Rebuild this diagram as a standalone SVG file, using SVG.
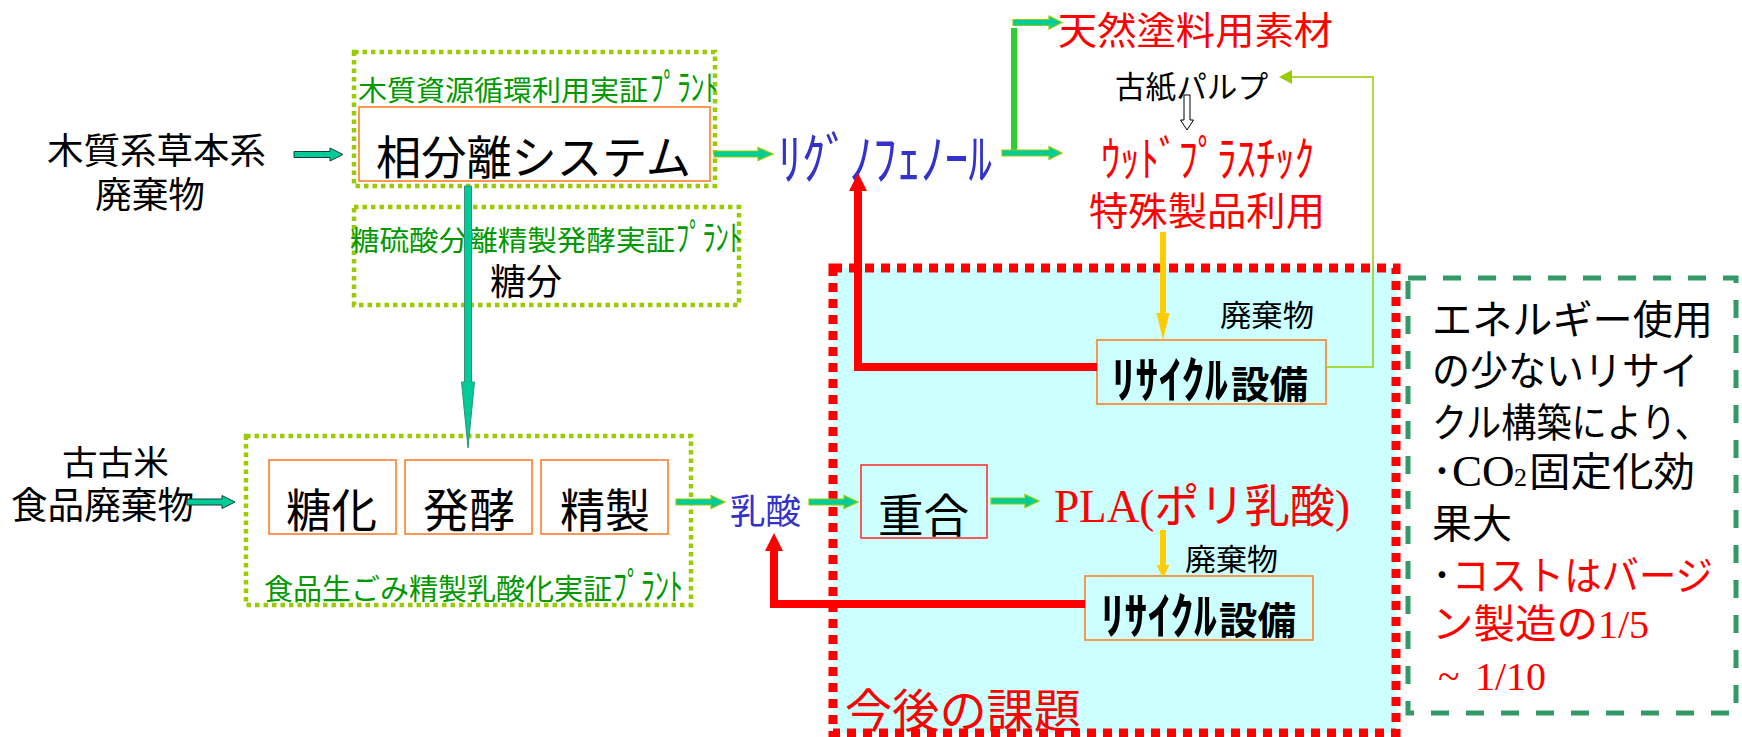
<svg xmlns="http://www.w3.org/2000/svg" width="1742" height="737" viewBox="0 0 1742 737">
<defs>
<style>
text{font-family:"Noto Sans CJK JP","Noto Sans CJK SC",sans-serif;}
.ser{font-family:"Liberation Serif","Noto Sans CJK JP",serif;}
.gdot{fill:none;stroke:#99CC00;stroke-width:4.5;stroke-dasharray:4.5 4;}
.obox{fill:none;stroke:#FF7F2A;stroke-width:1.6;}
.teal{fill:#00CC99;stroke:#99CC00;stroke-width:1.2;}
.tealk{fill:#00CC99;stroke:#1a3d33;stroke-width:1;}
.red{fill:none;stroke:#FF0000;stroke-width:8;}
.yel{fill:#FFCC00;}
.g{fill:#009900;}
.b{fill:#3333CC;}
.r{fill:#FF0000;}
.k{fill:#000000;}
</style>
</defs>
<rect x="0" y="0" width="1742" height="737" fill="#FFFFFF"/>

<g id="region-future">
<rect x="833" y="268" width="563" height="465" fill="#CCFFFF" stroke="#FF0000" stroke-width="9" stroke-dasharray="9 7"/>
<text x="845" y="727" font-size="46" class="r" textLength="236" lengthAdjust="spacingAndGlyphs">今後の課題</text>
</g>

<g id="note-box">
<rect x="1408" y="278" width="328" height="435" fill="none" stroke="#339966" stroke-width="5" stroke-dasharray="18 17"/>
<text x="1432" y="334" font-size="40" class="k" textLength="281" lengthAdjust="spacingAndGlyphs">エネルギー使用</text>
<text x="1432" y="385" font-size="40" class="k" textLength="266" lengthAdjust="spacingAndGlyphs">の少ないリサイ</text>
<text x="1432" y="437" font-size="40" class="k" textLength="278" lengthAdjust="spacingAndGlyphs">クル構築により、</text>
<text y="486" font-size="40" class="k"><tspan x="1432" font-size="40">･</tspan><tspan x="1452" class="ser" font-size="45">CO</tspan><tspan x="1514" class="ser" font-size="26">2</tspan><tspan x="1529" textLength="166" lengthAdjust="spacingAndGlyphs">固定化効</tspan></text>
<text x="1432" y="538" font-size="40" class="k">果大</text>
<text y="590" font-size="40"><tspan x="1432" class="k">･</tspan><tspan x="1452" class="r" textLength="261" lengthAdjust="spacingAndGlyphs">コストはバージ</tspan></text>
<text y="638" font-size="40" class="r"><tspan x="1432" textLength="166" lengthAdjust="spacingAndGlyphs">ン製造の</tspan><tspan x="1598" class="ser">1/5</tspan></text>
<text y="690" font-size="40" class="r"><tspan x="1438" class="ser" font-size="40">~</tspan><tspan x="1475" class="ser">1/10</tspan></text>
</g>

<g id="src-wood">
<text x="47" y="164" font-size="36" class="k" textLength="219" lengthAdjust="spacingAndGlyphs">木質系草本系</text>
<text x="95" y="208" font-size="36" class="k" textLength="110" lengthAdjust="spacingAndGlyphs">廃棄物</text>
</g>

<g id="plant-wood">
<rect x="354" y="52" width="361" height="134" class="gdot"/>
<text y="101" class="g"><tspan x="358" font-size="28" textLength="290" lengthAdjust="spacingAndGlyphs">木質資源循環利用実証</tspan><tspan x="650" font-size="36" textLength="68" lengthAdjust="spacingAndGlyphs">ﾌﾟﾗﾝﾄ</tspan></text>
</g>
<g id="phase-separation">
<rect x="359" y="107" width="351" height="74" class="obox"/>
<text x="376" y="174" font-size="46" class="k" textLength="315" lengthAdjust="spacingAndGlyphs">相分離システム</text>
</g>

<g id="plant-sugar">
<rect x="354" y="207" width="385" height="98" class="gdot"/>
<text y="251" class="g"><tspan x="350" font-size="28" textLength="325" lengthAdjust="spacingAndGlyphs">糖硫酸分離精製発酵実証</tspan><tspan x="676" font-size="36" textLength="66" lengthAdjust="spacingAndGlyphs">ﾌﾟﾗﾝﾄ</tspan></text>
<text x="490" y="295" font-size="36" class="k" textLength="72" lengthAdjust="spacingAndGlyphs">糖分</text>
</g>

<g id="src-food">
<text x="62" y="475" font-size="34" class="k" textLength="107" lengthAdjust="spacingAndGlyphs">古古米</text>
<text x="11" y="519" font-size="37" class="k" textLength="183" lengthAdjust="spacingAndGlyphs">食品廃棄物</text>
</g>

<g id="plant-food">
<rect x="246" y="436" width="445" height="169" class="gdot"/>
<text y="600" class="g"><tspan x="264" font-size="29" textLength="348" lengthAdjust="spacingAndGlyphs">食品生ごみ精製乳酸化実証</tspan><tspan x="613" font-size="37" textLength="70" lengthAdjust="spacingAndGlyphs">ﾌﾟﾗﾝﾄ</tspan></text>
</g>
<g id="saccharification">
<rect x="269" y="460" width="127" height="74" class="obox"/>
<text x="286" y="527" font-size="46" class="k" textLength="91" lengthAdjust="spacingAndGlyphs">糖化</text>
</g>
<g id="fermentation">
<rect x="405" y="460" width="127" height="74" class="obox"/>
<text x="423" y="527" font-size="46" class="k" textLength="92" lengthAdjust="spacingAndGlyphs">発酵</text>
</g>
<g id="purification">
<rect x="541" y="460" width="127" height="74" class="obox"/>
<text x="560" y="527" font-size="46" class="k" textLength="90" lengthAdjust="spacingAndGlyphs">精製</text>
</g>

<g id="lignophenol">
<text x="778" y="179" font-size="56" class="b" textLength="214" lengthAdjust="spacingAndGlyphs">ﾘｸﾞﾉﾌｪﾉｰﾙ</text>
</g>
<g id="paint">
<text x="1058" y="44" font-size="38" class="r" textLength="275" lengthAdjust="spacingAndGlyphs">天然塗料用素材</text>
</g>
<g id="pulp">
<text x="1115" y="98" font-size="31" class="k" textLength="153" lengthAdjust="spacingAndGlyphs">古紙パルプ</text>
</g>
<g id="wood-plastic">
<text x="1101" y="176" font-size="48" class="r" textLength="213" lengthAdjust="spacingAndGlyphs">ｳｯﾄﾞﾌﾟﾗｽﾁｯｸ</text>
<text x="1089" y="225" font-size="39" class="r" textLength="236" lengthAdjust="spacingAndGlyphs">特殊製品利用</text>
</g>
<g id="waste1">
<text x="1220" y="326" font-size="30" class="k" textLength="94" lengthAdjust="spacingAndGlyphs">廃棄物</text>
</g>
<g id="recycle1">
<rect x="1097" y="340" width="229" height="64" class="obox"/>
<text y="398" font-weight="700" class="k"><tspan x="1112" font-size="50" textLength="116" lengthAdjust="spacingAndGlyphs">ﾘｻｲｸﾙ</tspan><tspan x="1231" font-size="38" textLength="77" lengthAdjust="spacingAndGlyphs">設備</tspan></text>
</g>

<g id="lactic-acid">
<text x="730" y="524" font-size="35" class="b" textLength="71" lengthAdjust="spacingAndGlyphs">乳酸</text>
</g>
<g id="polymerization">
<rect x="861" y="465" width="126" height="73" fill="none" stroke="#FF3333" stroke-width="1.6"/>
<text x="878" y="532" font-size="46" class="k" textLength="91" lengthAdjust="spacingAndGlyphs">重合</text>
</g>
<g id="pla">
<text x="1054" y="522" font-size="46" class="r ser" textLength="296" lengthAdjust="spacingAndGlyphs">PLA(ポリ乳酸)</text>
</g>
<g id="waste2">
<text x="1185" y="570" font-size="30" class="k" textLength="93" lengthAdjust="spacingAndGlyphs">廃棄物</text>
</g>
<g id="recycle2">
<rect x="1085" y="576" width="228" height="64" class="obox"/>
<text y="634" font-weight="700" class="k"><tspan x="1101" font-size="50" textLength="116" lengthAdjust="spacingAndGlyphs">ﾘｻｲｸﾙ</tspan><tspan x="1219" font-size="38" textLength="77" lengthAdjust="spacingAndGlyphs">設備</tspan></text>
</g>

<g id="connectors">
<polygon class="tealk" points="294,151.5 330,151.5 330,148 343,154.5 330,161 330,157.5 294,157.5"/>
<polygon class="tealk" points="187,499 222,499 222,495.5 235,502 222,508.5 222,505 187,505"/>
<polygon class="teal" points="714,151 758,151 758,147.5 773,154 758,160.5 758,157 714,157"/>
<polygon class="teal" points="676,499 711,499 711,495.5 725,502 711,508.5 711,505 676,505"/>
<polygon class="teal" points="809,499 844,499 844,495.5 858,502 844,508.5 844,505 809,505"/>
<polygon class="teal" points="991,498 1025,498 1025,494.5 1039,501 1025,507.5 1025,504 991,504"/>
<line x1="1014" y1="28" x2="1014" y2="150" stroke="#33CC33" stroke-width="6"/>
<polygon class="teal" points="1013,19.5 1049,19.5 1049,16 1062,22.5 1049,29 1049,25.5 1013,25.5"/>
<polygon class="teal" points="1002,150 1049,150 1049,146.5 1062,153 1049,159.5 1049,156 1002,156"/>
<polygon fill="#00CC99" stroke="#3a8f7a" stroke-width="1" points="464.5,186 471.5,186 471.5,382 474.5,382 468,448 461.5,382 464.5,382"/>
<polygon fill="#FFFFFF" stroke="#000000" stroke-width="1" points="1184,95 1190,95 1190,120 1193.5,120 1187,130 1180.5,120 1184,120"/>
<polygon class="yel" points="1160,232 1166,232 1166,313 1169.5,313 1163,340 1156.5,313 1160,313"/>
<polygon class="yel" points="1160,530 1166,530 1166,565 1169.5,565 1163,578 1156.5,565 1160,565"/>
<polyline class="red" points="1097,367 858,367 858,189"/>
<polygon class="r" points="858,173 867,191 849,191"/>
<polyline class="red" points="1085,604 774,604 774,549"/>
<polygon class="r" points="774,533 783,551 765,551"/>
<polyline points="1326,367 1373,367 1373,77 1291,77" fill="none" stroke="#99CC00" stroke-width="1.5"/>
<polygon points="1279,77 1292,70 1292,84" fill="#99CC00"/>
</g>
</svg>
